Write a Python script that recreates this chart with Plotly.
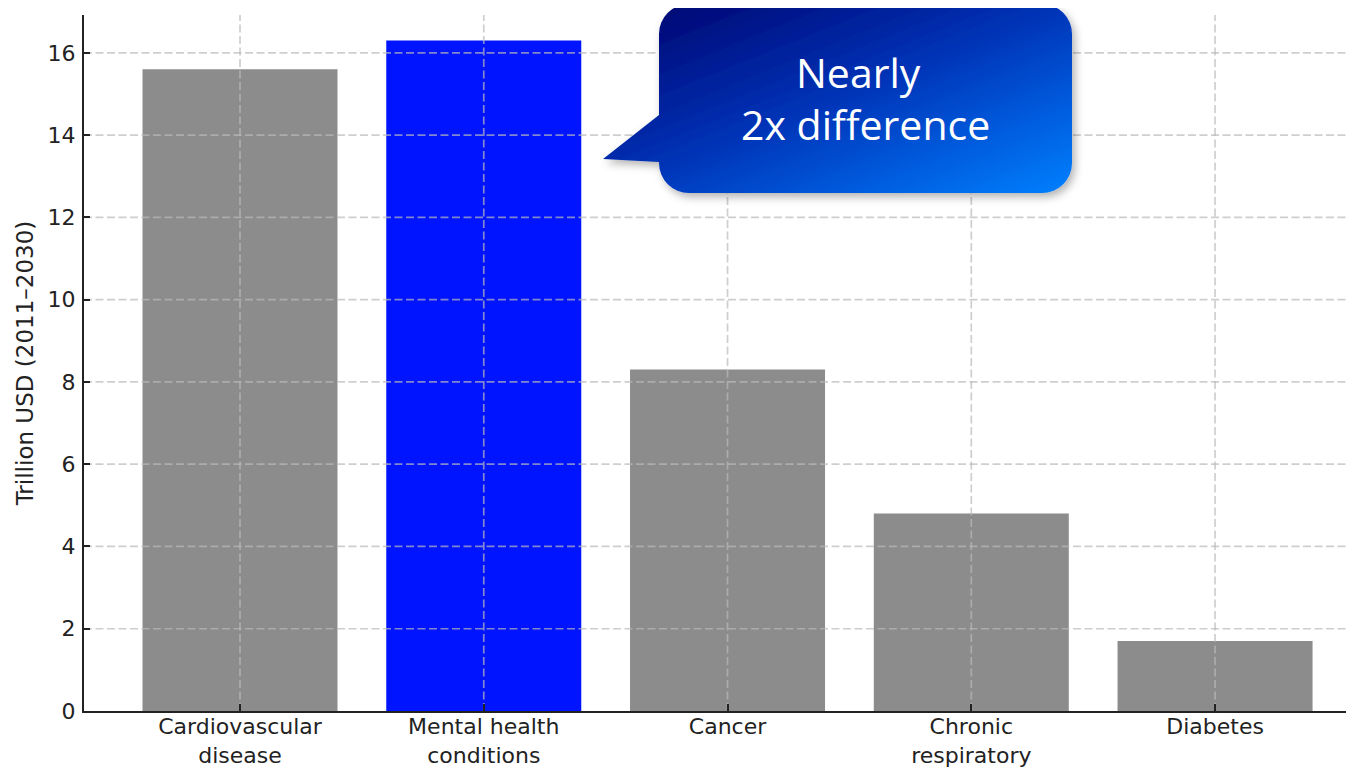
import base64
import plotly.graph_objects as go

categories = ["Cardiovascular<br>disease", "Mental health<br>conditions", "Cancer",
              "Chronic<br>respiratory", "Diabetes"]
values = [15.6, 16.3, 8.3, 4.8, 1.7]
highlight = "Mental health<br>conditions"
ytick_vals = [0, 2, 4, 6, 8, 10, 12, 14, 16]
y_title = "Trillion USD (2011–2030)"
callout_lines = ["Nearly", "2x difference"]

GRAY = "#8c8c8c"
BLUE = "#0014ff"
GRID = "rgba(185,185,185,0.7)"
bar_colors = [BLUE if c == highlight else GRAY for c in categories]

# page is shown with an 8px body margin; work in page pixels and convert
OFF = 8
PAGE_W, PAGE_H = 1354, 767
PL, PR, PT, PB = 84, 1354, 15, 711          # plot area in page pixels
W, H = PAGE_W - OFF, PAGE_H - OFF
ML, MT = PL - OFF, PT - OFF
MR = W - (PR - OFF)
MB = H - (PB - OFF)
PW, PH = PR - PL, PB - PT
X_RANGE = [-0.64, 4.57]
Y_RANGE = [0, 16.92]


def px(xp):
    return (xp - PL) / PW


def py(yp):
    return (PB - yp) / PH


fig = go.Figure()
fig.add_trace(go.Bar(x=categories, y=values, marker=dict(color=bar_colors, line=dict(width=0)),
                     width=0.8, showlegend=False, hoverinfo="skip"))

# gridlines drawn above the bars
gx, gy = [], []
for v in ytick_vals[1:]:
    gx += [X_RANGE[0], X_RANGE[1], None]
    gy += [v, v, None]
fig.add_trace(go.Scatter(x=gx, y=gy, mode="lines", xaxis="x2", yaxis="y",
                         line=dict(color=GRID, width=1.7, dash="8px,3.5px"),
                         showlegend=False, hoverinfo="skip"))
vx, vy = [], []
for c in categories:
    vx += [c, c, None]
    vy += [Y_RANGE[0], Y_RANGE[1], None]
fig.add_trace(go.Scatter(x=vx, y=vy, mode="lines",
                         line=dict(color=GRID, width=1.7, dash="8px,3.5px"),
                         showlegend=False, hoverinfo="skip"))

# callout bubble background (gradient) as SVG image
bx0, by0 = 590, 0
bw, bh = 500, 215
path = ("M 99,4 H 452 A 30 30 0 0 1 482 34 V 163 A 30 30 0 0 1 452 193 H 99 "
        "A 30 30 0 0 1 69 163 V 162 L 13 159 L 69 115 V 34 A 30 30 0 0 1 99 4 Z")
svg = f'''<svg xmlns="http://www.w3.org/2000/svg" width="{bw}" height="{bh}" viewBox="0 0 {bw} {bh}">
<defs>
<linearGradient id="g" x1="0" y1="0" x2="1" y2="1">
<stop offset="0" stop-color="#00006a"/>
<stop offset="0.5" stop-color="#0034b8"/>
<stop offset="1" stop-color="#0080ff"/>
</linearGradient>
<filter id="s" x="-10%" y="-10%" width="130%" height="140%">
<feDropShadow dx="3" dy="4" stdDeviation="4" flood-color="#000" flood-opacity="0.3"/>
</filter>
</defs>
<path d="{path}" fill="url(#g)" filter="url(#s)"/>
</svg>'''
src = "data:image/svg+xml;base64," + base64.b64encode(svg.encode()).decode()
fig.add_layout_image(dict(source=src, xref="paper", yref="paper",
                          x=px(bx0), y=py(by0),
                          sizex=bw / PW, sizey=bh / PH, sizing="stretch",
                          xanchor="left", yanchor="top", layer="above"))

for txt, cx, cy in zip(callout_lines, [858, 865], [72, 124]):
    fig.add_annotation(text=txt, xref="paper", yref="paper",
                       x=px(cx), y=py(cy),
                       xanchor="center", yanchor="middle", showarrow=False,
                       font=dict(family="Open Sans", size=41, color="white"))

axis_font = dict(family="DejaVu Sans", size=22, color="#222222")
fig.update_layout(
    width=W, height=H,
    margin=dict(l=ML, r=MR, t=MT, b=MB, autoexpand=False),
    paper_bgcolor="white", plot_bgcolor="white",
    xaxis=dict(range=X_RANGE, showgrid=False, showline=True, linecolor="#222222", linewidth=2,
               ticks="inside", ticklen=7, tickwidth=1.5, tickcolor="#222222",
               tickfont=axis_font, zeroline=False, fixedrange=True, ticklabelstandoff=-5),
    xaxis2=dict(range=X_RANGE, overlaying="x", visible=False, fixedrange=True),
    yaxis=dict(range=Y_RANGE, tickvals=ytick_vals, showgrid=False, showline=True,
               linecolor="#222222", linewidth=2, ticks="inside", ticklen=6, tickwidth=1.5,
               tickcolor="#222222", tickfont=axis_font, zeroline=False, ticklabelstandoff=2,
               title=dict(text=y_title, font=dict(family="DejaVu Sans", size=23, color="#222222"),
                          standoff=8), fixedrange=True),
)

fig.write_html("out.html")
